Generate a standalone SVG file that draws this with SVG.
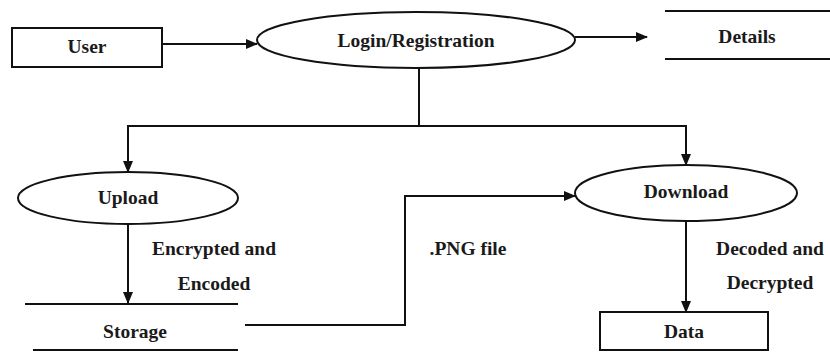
<svg xmlns="http://www.w3.org/2000/svg" width="830" height="352" viewBox="0 0 830 352">
<defs>
<marker id="arr" markerWidth="12" markerHeight="10" refX="11" refY="5" orient="auto" markerUnits="userSpaceOnUse">
<path d="M0,0 L12,5 L0,10 Z" fill="#111"/>
</marker>
<style>
.shape{fill:#fff;stroke:#111;stroke-width:2}
.line{fill:none;stroke:#111;stroke-width:2}
.conn{fill:none;stroke:#111;stroke-width:2}
.t{font-family:'Liberation Serif','DejaVu Serif','Times New Roman',serif;font-size:19.5px;font-weight:bold;fill:#1a1a1a;text-anchor:middle;dominant-baseline:central}
</style>
</defs>
<rect width="830" height="352" fill="#fff"/>
<g id="connectors">
<path class="conn" d="M162,44 L257,44" marker-end="url(#arr)"/>
<path class="conn" d="M575,37 L647,37" marker-end="url(#arr)"/>
<path class="conn" d="M419,68 L419,126"/>
<path class="conn" d="M128,126 L685,126"/>
<path class="conn" d="M128,125 L128,172" marker-end="url(#arr)"/>
<path class="conn" d="M686,125 L686,165" marker-end="url(#arr)"/>
<path class="conn" d="M128,224 L128,303" marker-end="url(#arr)"/>
<path class="conn" d="M245,325 L405,325 L405,196 L575,196" marker-end="url(#arr)"/>
<path class="conn" d="M686,222 L686,312" marker-end="url(#arr)"/>
<text class="t" x="214" y="248">Encrypted and</text>
<text class="t" x="214" y="283">Encoded</text>
<text class="t" x="468" y="248">.PNG file</text>
<text class="t" x="770" y="248">Decoded and</text>
<text class="t" x="770" y="282">Decrypted</text>
</g>
<g id="user">
<rect class="shape" x="12" y="28" width="150" height="39"/>
<text class="t" x="87" y="46">User</text>
</g>
<g id="login">
<ellipse class="shape" cx="416" cy="40" rx="159" ry="28"/>
<text class="t" x="416" y="40">Login/Registration</text>
</g>
<g id="details">
<line class="line" x1="665" y1="11" x2="830" y2="11"/>
<line class="line" x1="665" y1="59" x2="830" y2="59"/>
<text class="t" x="747" y="36">Details</text>
</g>
<g id="upload">
<ellipse class="shape" cx="128" cy="198" rx="110" ry="26"/>
<text class="t" x="128" y="197">Upload</text>
</g>
<g id="storage">
<line class="line" x1="25" y1="304" x2="238" y2="304"/>
<line class="line" x1="33" y1="350" x2="238" y2="350"/>
<text class="t" x="135" y="331">Storage</text>
</g>
<g id="download">
<ellipse class="shape" cx="686" cy="193" rx="111" ry="28"/>
<text class="t" x="686" y="191">Download</text>
</g>
<g id="data">
<rect class="shape" x="600" y="312" width="168" height="38"/>
<text class="t" x="684" y="331">Data</text>
</g>
</svg>
